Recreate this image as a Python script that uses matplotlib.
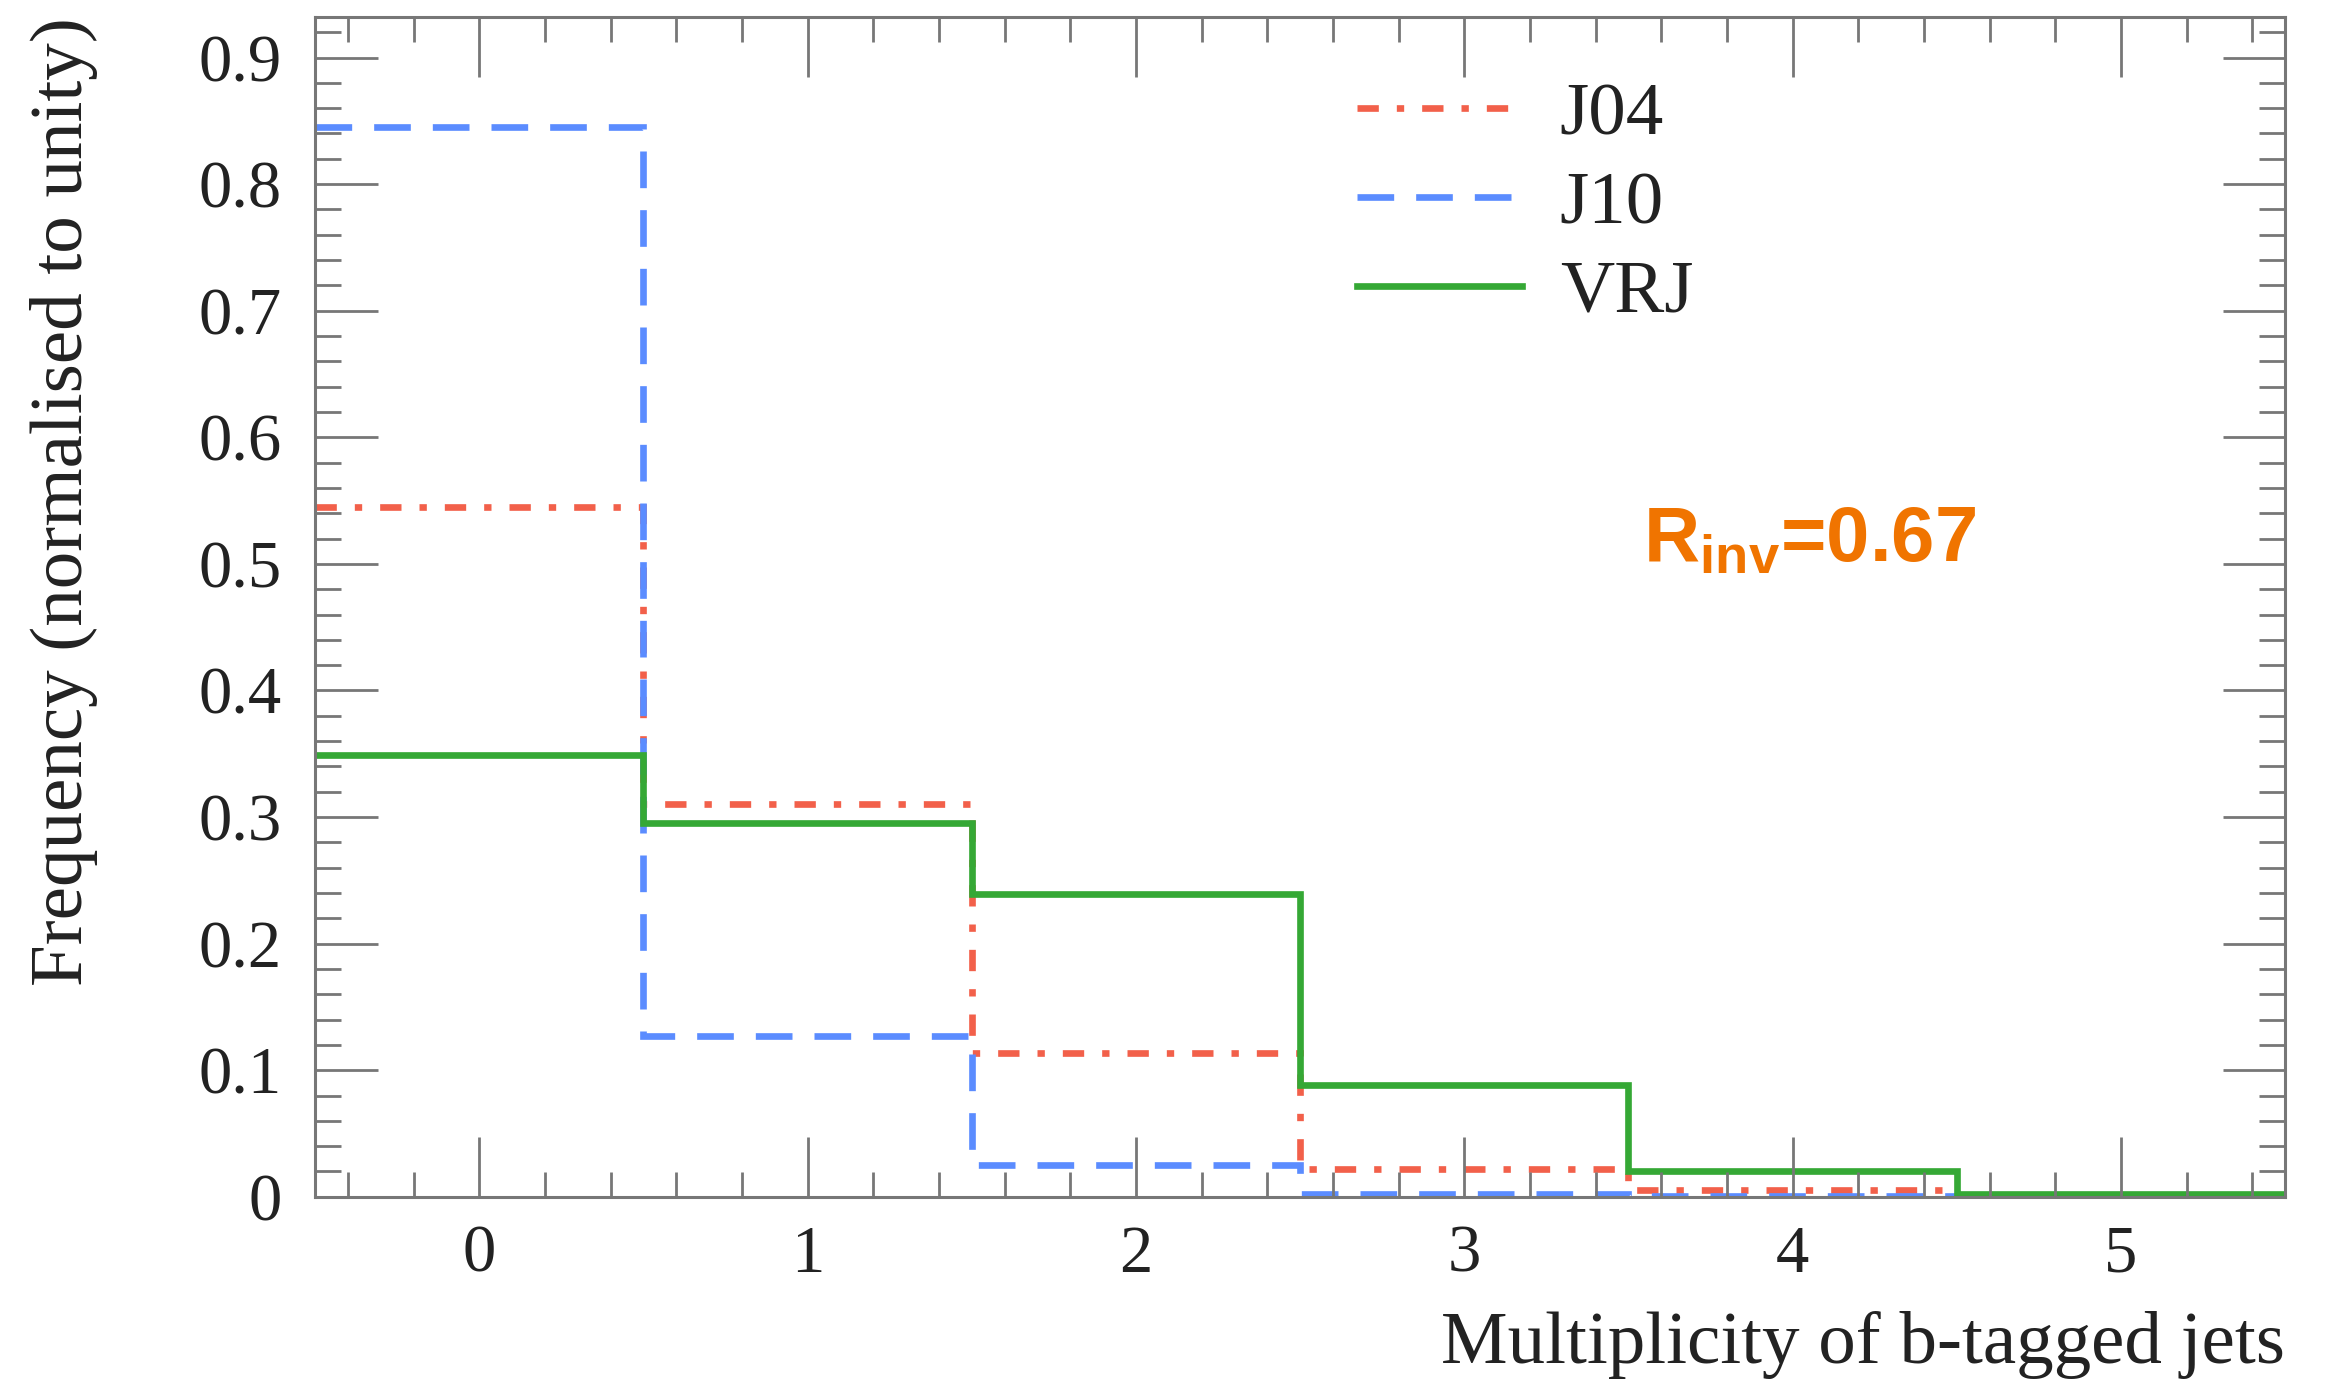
import numpy as np
import matplotlib
matplotlib.use("Agg")
import matplotlib.pyplot as plt
from matplotlib.ticker import MultipleLocator

# bin edges and per-bin frequencies
edges = [-0.5, 0.5, 1.5, 2.5, 3.5, 4.5, 5.5]
j04 = [0.545, 0.310, 0.114, 0.022, 0.005, 0.001]
j10 = [0.845, 0.127, 0.025, 0.002, 0.001, 0.000]
vrj = [0.349, 0.295, 0.239, 0.088, 0.020, 0.002]

x_ticks = [0, 1, 2, 3, 4, 5]
y_ticks = [0, 0.1, 0.2, 0.3, 0.4, 0.5, 0.6, 0.7, 0.8, 0.9]
y_tick_labels = ['0', '0.1', '0.2', '0.3', '0.4', '0.5', '0.6', '0.7', '0.8', '0.9']

plt.rcParams['font.family'] = ['Liberation Serif', 'DejaVu Serif']
plt.rcParams['mathtext.fontset'] = 'custom'
plt.rcParams['mathtext.bf'] = 'Liberation Sans:bold'
plt.rcParams['mathtext.rm'] = 'Liberation Sans'

fig = plt.figure(figsize=(11.71, 6.91), dpi=200)
ax = fig.add_axes([0.1345, 0.134, 0.8412, 0.8537])

red = '#f2604a'
blue = '#5b8cff'
green = '#35a835'

ax.stairs(j04, edges, baseline=None, color=red, lw=2.4,
          linestyle=(0, (3.2, 2.7, 1.1, 2.7)), label='J04')
ax.stairs(j10, edges, baseline=None, color=blue, lw=2.4,
          linestyle=(0, (5.5, 3.3)), label='J10')
ax.stairs(vrj, edges, baseline=None, color=green, lw=2.4, label='VRJ')

ax.set_xlim(-0.5, 5.5)
ax.set_ylim(0, 0.932)

ax.set_xticks(x_ticks)
ax.set_yticks(y_ticks)
ax.set_yticklabels(y_tick_labels)
ax.xaxis.set_minor_locator(MultipleLocator(0.2))
ax.yaxis.set_minor_locator(MultipleLocator(0.02))

frame = '#777777'
for s in ax.spines.values():
    s.set_color(frame)
    s.set_linewidth(1.1)
ax.tick_params(which='both', direction='in', top=True, right=True,
               color=frame, width=1.0, labelsize=24, labelcolor='#222222')
ax.tick_params(axis='x', which='major', length=21.5, pad=10)
ax.tick_params(axis='x', which='minor', length=9)
ax.tick_params(axis='y', which='major', length=22.5, pad=12)
ax.tick_params(axis='y', which='minor', length=9.5)

ax.set_xlabel('Multiplicity of b-tagged jets', fontsize=27, loc='right', color='#222222')
ax.xaxis.set_label_coords(1.0, -0.097)
ax.set_ylabel('Frequency (normalised to unity)', fontsize=27, loc='top', color='#222222')
ax.yaxis.set_label_coords(-0.11, 1.0)

ax.legend(loc='upper left', bbox_to_anchor=(0.529, 0.945), frameon=False,
          fontsize=27, handlelength=2.2, handletextpad=0.5, labelspacing=0.27,
          borderpad=0, borderaxespad=0, labelcolor='#222222')

ax.text(0.674, 0.538, r'R$\mathbf{_{inv}}$=0.67', transform=ax.transAxes,
        family='Liberation Sans', fontweight='bold',
        fontsize=28, color='#f07400', ha='left', va='baseline')

fig.savefig('out.png', dpi=200)
